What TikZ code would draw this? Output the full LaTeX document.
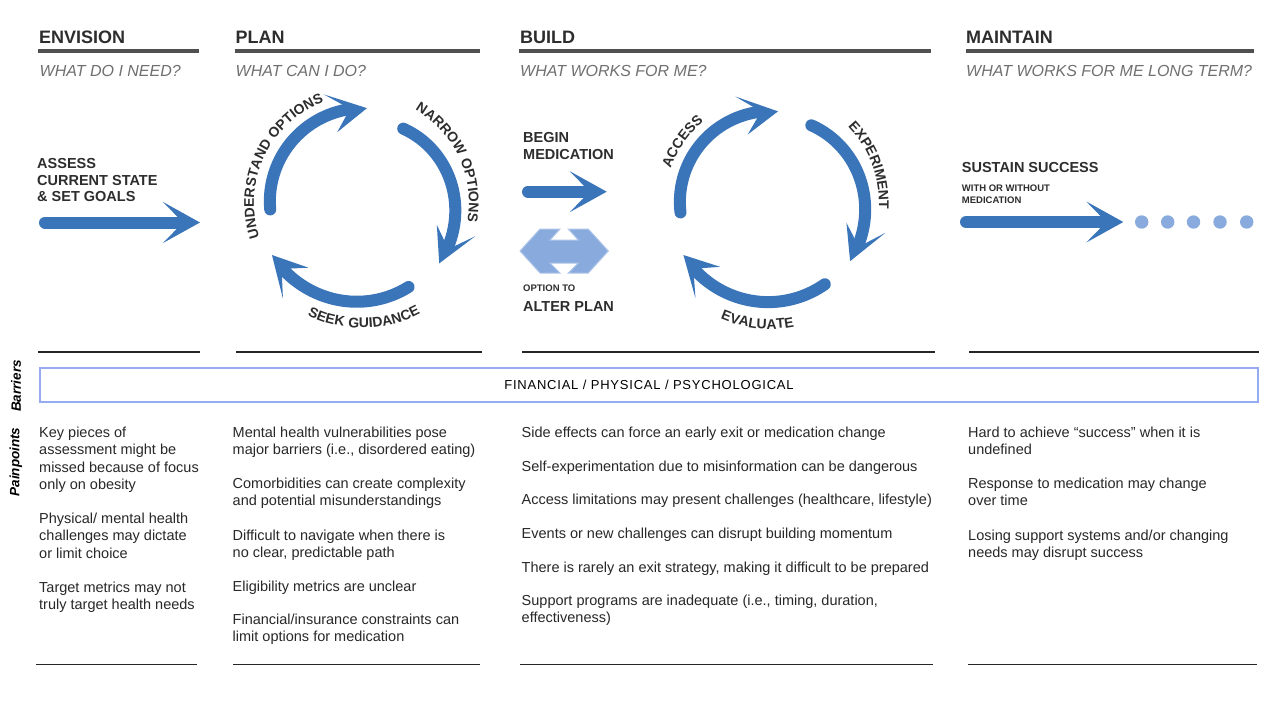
\documentclass[tikz,border=0pt]{standalone}
\usepackage{fontspec}
\setmainfont{Liberation Sans}
\usetikzlibrary{decorations.text}
\definecolor{arrowblue}{RGB}{58,117,186}
\definecolor{lightblue}{RGB}{137,170,220}
\definecolor{lightedge}{RGB}{175,198,234}
\definecolor{titlegray}{RGB}{45,45,45}
\definecolor{rulegray}{RGB}{80,80,80}
\definecolor{subgray}{RGB}{112,112,112}
\definecolor{boxblue}{RGB}{150,172,240}
\definecolor{textgray}{RGB}{40,40,40}
\newcommand{\myfs}[2]{\fontsize{#1}{#2}\selectfont}
\newcommand{\arcfont}{\myfs{14}{16}\bfseries\addfontfeatures{LetterSpace=4}\color{titlegray}}
% cycle arrow: cx, cy, start angle, start radius, tip angle, tip radius
\newcommand{\cycarrow}[6]{%
  \pgfmathsetmacro\cyEnd{#5-20/#6*180/pi}%
  \pgfmathsetmacro\cyBack{#5-37/#6*180/pi}%
  \pgfmathsetmacro\cyNotch{#5-17/#6*180/pi}%
  \pgfmathsetmacro\cyRo{#6+20}%
  \pgfmathsetmacro\cyRi{#6-20}%
  \begin{scope}[shift={(#1,#2)}]
    \draw[shaft] plot[domain=#3:\cyEnd, samples=60, smooth] (\x:{#4+(#6-#4)*(\x-#3)/(#5-#3)});
    \fill[arrowblue] (#5:#6) -- (\cyBack:\cyRo) -- (\cyNotch:#6) -- (\cyBack:\cyRi) -- cycle;
  \end{scope}}
% text on arc: cx, cy, from angle, to angle, radius, text
\newcommand{\arctext}[6]{%
  \path[decorate, decoration={text along path, text align=center, text={|\arcfont|#6}}]
    plot[domain=0:1, samples=61] ({#1+#5*cos(#3+(#4-#3)*\x)},{#2+#5*sin(#3+(#4-#3)*\x)});}
% straight chevron head: tip coordinate name
\newcommand{\chevhead}[1]{%
  \fill[arrowblue] (#1) -- ++(-37,-20.5) -- ++(20,20.5) -- ++(-20,20.5) -- cycle;}
\begin{document}
\begin{tikzpicture}[x=1pt,y=-1pt,
  title/.style={anchor=base west, inner sep=0pt, font=\myfs{18}{20}\bfseries, text=titlegray},
  sub/.style={anchor=base west, inner sep=0pt, font=\myfs{16}{18}\itshape, text=subgray},
  hrule/.style={line width=3.5pt, draw=rulegray},
  sepline/.style={line width=1.2pt, draw=black!85},
  lab/.style={anchor=base west, inner sep=0pt, align=left, font=\myfs{14.5}{16.7}\bfseries, text=titlegray},
  smalllab/.style={anchor=base west, inner sep=0pt, align=left, font=\myfs{9.5}{11.6}\bfseries, text=titlegray},
  pp/.style={anchor=base west, inner sep=0pt, align=left, font=\myfs{14.5}{17.6}, text=textgray},
  shaft/.style={draw=arrowblue, line width=12pt, line cap=round},
  vlab/.style={rotate=90, inner sep=0pt, font=\myfs{13.5}{15}\bfseries\itshape, text=black},
]
% note: for multi-line nodes the base anchor is the baseline of the last line
\useasboundingbox (0,0) rectangle (1280,720);
\fill[white] (0,0) rectangle (1280,720);

% ---------- headers ----------
\node[title] (h1) at (39,43.3) {ENVISION};
\node[title] (h2) at (235.5,43.3) {PLAN};
\node[title] (h3) at (520,43.3) {BUILD};
\node[title] (h4) at (966,43.3) {MAINTAIN};
\draw[hrule] (38,51) -- (199,51);
\draw[hrule] (234.5,51) -- (479.5,51);
\draw[hrule] (519,51) -- (931,51);
\draw[hrule] (966,51) -- (1254,51);
\node[sub] (s1) at (39.5,76.7) {WHAT DO I NEED?};
\node[sub] (s2) at (235.5,76.7) {WHAT CAN I DO?};
\node[sub] (s3) at (520,76.7) {WHAT WORKS FOR ME?};
\node[sub] (s4) at (966,76.7) {WHAT WORKS FOR ME LONG TERM?};

% ---------- envision ----------
\node[lab] (assess) at (37,201.7) {ASSESS\\CURRENT STATE\\\& SET GOALS};
\coordinate (e0) at (45,222.5);
\coordinate (e1) at (200,222.5);
\draw[shaft] (e0) -- ([xshift=-20pt]e1);
\chevhead{e1}

% ---------- plan cycle ----------
\cycarrow{362}{203}{176}{92}{273}{95}
\cycarrow{362}{203}{299}{85}{398}{98}
\cycarrow{362}{203}{61}{96}{150}{104}
\arctext{362}{203}{150}{261}{108}{UNDERSTAND OPTIONS}
\arctext{362}{203}{280}{390}{107}{NARROW OPTIONS}
\arctext{362}{203}{150}{28}{125}{SEEK GUIDANCE}

% ---------- build ----------
\node[lab] (begin) at (523,159) {BEGIN\\MEDICATION};
\coordinate (b0) at (528,191.7);
\coordinate (b1) at (606.7,191.7);
\draw[shaft] (b0) -- ([xshift=-20pt]b1);
\chevhead{b1}
\fill[lightblue, draw=lightedge, line width=1pt]
  (520,251) -- (540,229) -- (560,229) -- (550,240) -- (578.3,240) -- (568.3,229)
  -- (588.3,229) -- (608.3,251) -- (588.3,273) -- (568.3,273) -- (578.3,263)
  -- (550,263) -- (560,273) -- (540,273) -- cycle;
\node[smalllab] (opt) at (523,291.7) {OPTION TO};
\node[lab] (alter) at (523,311.7) {ALTER PLAN};

\cycarrow{770}{203}{174}{90}{275}{92}
\cycarrow{770}{203}{298}{88}{396}{99}
\cycarrow{770}{203}{56}{98}{149}{101}
\arctext{770}{203}{160}{270}{105}{ACCESS}
\arctext{770}{203}{285}{394}{109}{EXPERIMENT}
\arctext{770}{203}{157}{35}{126}{EVALUATE}

% ---------- maintain ----------
\node[lab] (sustain) at (961.7,172.7) {SUSTAIN SUCCESS};
\node[smalllab] (with) at (961.7,203.3) {WITH OR WITHOUT\\MEDICATION};
\coordinate (m0) at (966,222);
\coordinate (m1) at (1123.3,222);
\draw[shaft] (m0) -- ([xshift=-20pt]m1);
\chevhead{m1}
\foreach \dx in {1141.7,1167.7,1193.5,1220,1246.7}
  \fill[lightblue] (\dx,222) circle[radius=6.7pt];

% ---------- separators ----------
\draw[sepline] (38,352) -- (200,352);
\draw[sepline] (236,352) -- (482,352);
\draw[sepline] (522,352) -- (935,352);
\draw[sepline] (969,352) -- (1259,352);
\draw[sepline] (36,664.5) -- (197,664.5);
\draw[sepline] (233,664.5) -- (480,664.5);
\draw[sepline] (520,664.5) -- (933,664.5);
\draw[sepline] (968,664.5) -- (1257,664.5);

% ---------- barriers ----------
\node[draw=boxblue, line width=1.8pt, minimum width=1218pt, minimum height=34pt, inner sep=0pt,
      font=\myfs{13}{15}\addfontfeatures{LetterSpace=6}, text=black]
  (bar) at (649,385) {FINANCIAL / PHYSICAL / PSYCHOLOGICAL};
\node[vlab] (vb) at (16,386) {Barriers};
\node[vlab] (vp) at (16,462) {Painpoints};

% ---------- painpoints ----------
\node[pp] (p11) at (39,489.8) {Key pieces of\\assessment might be\\missed because of focus\\only on obesity};
\node[pp] (p12) at (39,558.2) {Physical/ mental health\\challenges may dictate\\or limit choice};
\node[pp] (p13) at (39,609.6) {Target metrics may not\\truly target health needs};

\node[pp] (p21) at (232.5,454.6) {Mental health vulnerabilities pose\\major barriers (i.e., disordered eating)};
\node[pp] (p22) at (232.5,505.6) {Comorbidities can create complexity\\and potential misunderstandings};
\node[pp] (p23) at (232.5,557.6) {Difficult to navigate when there is\\no clear, predictable path};
\node[pp] (p24) at (232.5,591) {Eligibility metrics are unclear};
\node[pp] (p25) at (232.5,641.6) {Financial/insurance constraints can\\limit options for medication};

\node[pp] (p31) at (521.5,437) {Side effects can force an early exit or medication change};
\node[pp] (p32) at (521.5,471) {Self-experimentation due to misinformation can be dangerous};
\node[pp] (p33) at (521.5,504) {Access limitations may present challenges (healthcare, lifestyle)};
\node[pp] (p34) at (521.5,538) {Events or new challenges can disrupt building momentum};
\node[pp] (p35) at (521.5,572) {There is rarely an exit strategy, making it difficult to be prepared};
\node[pp] (p36) at (521.5,622.6) {Support programs are inadequate (i.e., timing, duration,\\effectiveness)};

\node[pp] (p41) at (968,454.6) {Hard to achieve “success” when it is\\undefined};
\node[pp] (p42) at (968,505.6) {Response to medication may change\\over time};
\node[pp] (p43) at (968,557.6) {Losing support systems and/or changing\\needs may disrupt success};
\end{tikzpicture}
\end{document}
